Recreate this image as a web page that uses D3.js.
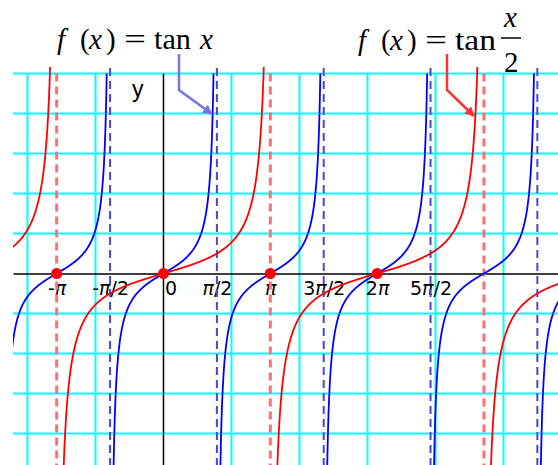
<!DOCTYPE html>
<html>
<head>
<meta charset="utf-8">
<script src="https://cdn.jsdelivr.net/npm/d3@7"></script>
<style>
  body { margin: 0; background: #fff; }
  svg { display: block; }
</style>
</head>
<body>
<svg id="svg" width="558" height="465"></svg>
<script>
// chart values
var PI = Math.PI;
var gridX = [-4, -2, 0, 2, 4, 6, 8, 10];
var gridY = [-10, -8, -6, -4, -2, 0, 2, 4, 6, 8, 10];
// x tick positions in halves of pi and their labels
var tickHalfPi = [-2, -1, 0, 1, 2, 3, 4, 5];
var tickLabels = ["-\u03c0", "-\u03c0/2", "0", "\u03c0/2", "\u03c0", "3\u03c0/2", "2\u03c0", "5\u03c0/2"];
// asymptotes: tan x at odd multiples of pi/2, tan(x/2) at odd multiples of pi
var tanAsym = [-3, -1, 1, 3, 5, 7, 9];        // * pi/2
var halfTanAsym = [-3, -1, 1, 3, 5];          // * pi
var marked = [-1, 0, 1, 2];                   // red dots, * pi

var W = 558, H = 465;
var svg = d3.select("#svg");

var x = d3.scaleLinear().domain([-4.426, 11.603]).range([13, 558]);
var y = d3.scaleLinear().domain([-10, 10]).range([473.5, 73.5]);

svg.append("defs").append("clipPath").attr("id", "plot")
  .append("rect").attr("x", 13).attr("y", 66).attr("width", W - 13).attr("height", H - 66);

// grid (the zero lines are the axes)
var grid = svg.append("g");
grid.selectAll(".gx").data(gridX.filter(function(d){ return d !== 0; })).enter().append("line")
  .attr("x1", function(d){ return x(d); }).attr("x2", function(d){ return x(d); })
  .attr("y1", y(10)).attr("y2", H)
  .attr("stroke", "#00ffff").attr("stroke-width", 2);
grid.selectAll(".gy").data(gridY.filter(function(d){ return d !== 0; })).enter().append("line")
  .attr("x1", 13).attr("x2", W)
  .attr("y1", function(d){ return y(d); }).attr("y2", function(d){ return y(d); })
  .attr("stroke", "#00ffff").attr("stroke-width", 2);

// axes
var xAxis = d3.axisBottom(x)
  .tickValues(tickHalfPi.map(function(k){ return k * PI / 2; }))
  .tickFormat(function(d, i){ return tickLabels[i]; })
  .tickSize(0).tickPadding(8);
var gx = svg.append("g").attr("transform", "translate(0," + y(0) + ")").call(xAxis);
gx.select(".domain").attr("stroke", "#000").attr("stroke-width", 1.5);
gx.selectAll("text")
  .attr("fill", "#000")
  .style("font-family", "DejaVu Sans").style("font-size", "19px")
  .attr("dx", function(d, i){ return tickLabels[i] == "0" ? 7 : 0; })
  .each(function(d, i){
    // italic pi, upright digits
    var t = d3.select(this), s = tickLabels[i];
    t.text(null);
    s.split(/(\u03c0)/).forEach(function(part){
      if (!part) return;
      t.append("tspan").text(part).style("font-style", part == "\u03c0" ? "italic" : "normal");
    });
  });

var yAxis = d3.axisLeft(y).tickValues([]).tickSize(0);
var gy = svg.append("g").attr("transform", "translate(" + x(0) + ",0)").call(yAxis);
gy.select(".domain").attr("d", "M0," + y(10) + "V" + H).attr("stroke", "#000").attr("stroke-width", 1.5);

svg.append("text").attr("x", 132).attr("y", 97).text("y")
  .style("font-family", "Liberation Sans").style("font-size", "23px").attr("fill", "#000");

// dashed asymptotes
var plot = svg.append("g").attr("clip-path", "url(#plot)");
plot.selectAll(".ab").data(tanAsym).enter().append("line")
  .attr("x1", function(d){ return x(d * PI / 2); }).attr("x2", function(d){ return x(d * PI / 2); })
  .attr("y1", 68).attr("y2", H)
  .attr("stroke", "#4848d0").attr("stroke-width", 2).attr("stroke-dasharray", "8,5");
plot.selectAll(".ar").data(halfTanAsym).enter().append("line")
  .attr("x1", function(d){ return x(d * PI); }).attr("x2", function(d){ return x(d * PI); })
  .attr("y1", y(10)).attr("y2", H)
  .attr("stroke", "#ff7070").attr("stroke-width", 3).attr("stroke-dasharray", "8,5");

// curves
var line = d3.line()
  .defined(function(p){ return Math.abs(p[1]) <= 10.4; })
  .x(function(p){ return x(p[0]); })
  .y(function(p){ return y(p[1]); });

function branches(asym, f, unit) {
  var out = [];
  for (var i = 0; i < asym.length - 1; i++) {
    var a = asym[i] * unit, b = asym[i + 1] * unit;
    var pts = d3.range(a + 0.002, b, 0.004).map(function(t){ return [t, f(t)]; });
    out.push(pts);
  }
  return out;
}

plot.selectAll(".cr").data(branches(halfTanAsym, function(t){ return Math.tan(t / 2); }, PI))
  .enter().append("path").attr("d", line)
  .attr("fill", "none").attr("stroke", "#ff0000").attr("stroke-width", 1.8);
plot.selectAll(".cb").data(branches(tanAsym, Math.tan, PI / 2))
  .enter().append("path").attr("d", line)
  .attr("fill", "none").attr("stroke", "#0000ff").attr("stroke-width", 1.8);

svg.selectAll(".dot").data(marked).enter().append("circle")
  .attr("cx", function(d){ return x(d * PI); }).attr("cy", y(0)).attr("r", 5.5)
  .attr("fill", "#ff0000");

// formula labels
function formula(x0, base, tanW) {
  var g = svg.append("g").style("font-family", "Liberation Serif").style("font-size", "29px").attr("fill", "#000");
  var parts = [["f", 0, "italic", 0], ["(", 23, "normal", 0], ["x", 32, "italic", 0], [")", 49, "normal", 0],
               ["=", 67, "normal", 22], ["tan", 97, "normal", tanW]];
  parts.forEach(function(p){
    var t = g.append("text").attr("x", x0 + p[1]).attr("y", base).style("font-style", p[2]).text(p[0]);
    if (p[3]) t.attr("textLength", p[3]).attr("lengthAdjust", "spacingAndGlyphs");
  });
  return g;
}
var fb = formula(57, 49, 37);
fb.append("text").attr("x", 200).attr("y", 49).style("font-style", "italic").text("x");

var fr = formula(358, 50, 41);
fr.append("text").attr("x", 504).attr("y", 27).style("font-style", "italic").text("x");
fr.append("line").attr("x1", 501).attr("x2", 521).attr("y1", 38).attr("y2", 38).attr("stroke", "#000").attr("stroke-width", 1.5);
fr.append("text").attr("x", 504).attr("y", 72).text("2");

// arrows
var defs = svg.select("defs");
function arrowHead(id, col) {
  defs.append("marker").attr("id", id).attr("viewBox", "0 0 10 10").attr("refX", 9).attr("refY", 5)
    .attr("markerWidth", 4).attr("markerHeight", 4).attr("orient", "auto").attr("markerUnits", "strokeWidth")
    .append("path").attr("d", "M0,0L10,5L0,10z").attr("fill", col);
}
arrowHead("ab", "#7474e8");
arrowHead("ar", "#ff3030");
svg.append("path").attr("d", "M179,54V90L212,114").attr("fill", "none")
  .attr("stroke", "#7474e8").attr("stroke-width", 2.5).attr("marker-end", "url(#ab)");
svg.append("path").attr("d", "M447,54V90L474,116").attr("fill", "none")
  .attr("stroke", "#ff3030").attr("stroke-width", 2.5).attr("marker-end", "url(#ar)");
</script>
</body>
</html>
